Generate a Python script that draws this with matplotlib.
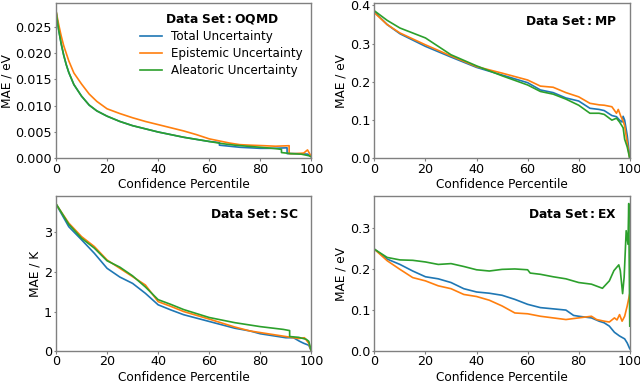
import matplotlib
matplotlib.use("Agg")
import matplotlib.pyplot as plt

labels = ["Total Uncertainty", "Epistemic Uncertainty", "Aleatoric Uncertainty"]
colors = ["#1f77b4", "#ff7f0e", "#2ca02c"]

# ---- OQMD ----
oqmd_total_x = [0, 1, 2, 3, 4, 5, 7, 10, 13, 16, 20, 25, 30, 35, 40, 45, 50, 55, 60, 64, 64, 68, 72, 76, 80, 85, 90.5, 90.5, 94, 98.6, 100]
oqmd_total_y = [0.0280, 0.0245, 0.0218, 0.0196, 0.0178, 0.0163, 0.0140, 0.0118, 0.0101, 0.0090, 0.0080, 0.0070, 0.0062, 0.0056, 0.0050, 0.0045, 0.0040, 0.0036, 0.0032, 0.0030, 0.0025, 0.0023, 0.0021, 0.0020, 0.0019, 0.0019, 0.0020, 0.0009, 0.0009, 0.0008, 0.0003]
oqmd_epi_x = [0, 1, 2, 3, 5, 7, 10, 13, 16, 20, 25, 30, 35, 40, 45, 50, 55, 60, 65, 68, 72, 76, 81.5, 86, 91.3, 91.3, 94, 97, 98.5, 99.9, 100]
oqmd_epi_y = [0.0280, 0.0255, 0.0233, 0.0214, 0.0185, 0.0162, 0.0141, 0.0122, 0.0108, 0.0094, 0.0085, 0.0077, 0.0070, 0.0064, 0.0058, 0.0052, 0.0045, 0.0037, 0.0032, 0.0029, 0.0026, 0.0025, 0.0024, 0.0023, 0.0024, 0.0009, 0.0009, 0.0010, 0.0016, 0.0004, 0.0003]
oqmd_ale_x = [0, 1, 2, 3, 4, 5, 7, 10, 13, 16, 20, 25, 30, 35, 40, 45, 50, 55, 60, 65, 70, 75, 80, 85, 88.3, 88.3, 92, 96, 99, 100]
oqmd_ale_y = [0.0280, 0.0245, 0.0218, 0.0196, 0.0178, 0.0163, 0.0140, 0.0118, 0.0101, 0.0090, 0.0080, 0.0070, 0.0062, 0.0056, 0.0050, 0.0045, 0.0040, 0.0036, 0.0032, 0.0028, 0.0025, 0.0023, 0.0021, 0.0019, 0.0017, 0.0011, 0.0009, 0.0008, 0.0005, 0.0003]

# ---- MP ----
mp_total_x = [0, 5, 10, 20, 30, 40, 50, 60, 65, 70, 75, 80, 84.4, 88, 90, 93, 94.8, 96, 97, 97.4, 98, 99, 100]
mp_total_y = [0.383, 0.350, 0.326, 0.293, 0.265, 0.238, 0.218, 0.198, 0.179, 0.172, 0.158, 0.150, 0.131, 0.128, 0.125, 0.112, 0.109, 0.100, 0.095, 0.110, 0.100, 0.060, 0.0]
mp_epi_x = [0, 5, 10, 20, 30, 40, 50, 60, 65, 70, 75, 80, 84.4, 88, 90, 93, 94.8, 95.5, 96.5, 97.4, 98, 99, 100]
mp_epi_y = [0.381, 0.350, 0.328, 0.297, 0.268, 0.240, 0.223, 0.205, 0.189, 0.186, 0.172, 0.161, 0.144, 0.140, 0.139, 0.135, 0.118, 0.128, 0.110, 0.098, 0.085, 0.040, 0.0]
mp_ale_x = [0, 5, 10, 20, 30, 40, 50, 60, 65, 70, 75, 80, 84.4, 88, 90, 93, 94.8, 96, 97.4, 98, 99, 100]
mp_ale_y = [0.386, 0.361, 0.341, 0.315, 0.271, 0.242, 0.216, 0.192, 0.175, 0.168, 0.155, 0.139, 0.118, 0.118, 0.115, 0.100, 0.105, 0.095, 0.080, 0.050, 0.030, 0.0]

# ---- SC ----
sc_total_x = [0, 5, 10, 15, 20, 25, 30, 35, 40, 45, 50, 60, 70, 76, 80, 90, 93, 95.4, 97, 99, 100]
sc_total_y = [3.71, 3.14, 2.81, 2.47, 2.09, 1.87, 1.71, 1.46, 1.17, 1.04, 0.92, 0.75, 0.58, 0.51, 0.44, 0.34, 0.34, 0.25, 0.20, 0.15, 0.0]
sc_epi_x = [0, 5, 10, 15, 20, 25, 30, 35, 40, 45, 50, 60, 70, 76, 80, 90, 95, 97.3, 99, 100]
sc_epi_y = [3.71, 3.23, 2.89, 2.64, 2.30, 2.09, 1.88, 1.67, 1.25, 1.13, 1.00, 0.81, 0.61, 0.51, 0.47, 0.37, 0.32, 0.34, 0.20, 0.0]
sc_ale_x = [0, 5, 10, 15, 20, 25, 30, 35, 40, 45, 50, 60, 70, 76, 80, 89, 91.5, 91.5, 95, 98, 99, 100]
sc_ale_y = [3.72, 3.20, 2.85, 2.60, 2.28, 2.12, 1.90, 1.62, 1.30, 1.18, 1.05, 0.85, 0.72, 0.66, 0.62, 0.55, 0.52, 0.37, 0.35, 0.30, 0.25, 0.0]

# ---- EX ----
ex_total_x = [0, 5, 10, 15, 20, 25, 30, 35, 40, 45, 50, 55, 60, 65, 70, 75, 78, 80, 85, 88, 90, 92, 94, 96, 98, 99, 100]
ex_total_y = [0.248, 0.224, 0.211, 0.195, 0.181, 0.176, 0.167, 0.152, 0.144, 0.141, 0.136, 0.126, 0.114, 0.106, 0.103, 0.100, 0.087, 0.085, 0.081, 0.073, 0.069, 0.061, 0.046, 0.037, 0.030, 0.020, 0.006]
ex_epi_x = [0, 5, 10, 15, 20, 25, 30, 35, 40, 45, 50, 55, 60, 65, 70, 75, 80, 85, 87, 90, 92, 94, 95, 96, 97, 98, 99, 100]
ex_epi_y = [0.248, 0.220, 0.199, 0.179, 0.171, 0.159, 0.152, 0.138, 0.133, 0.124, 0.110, 0.093, 0.091, 0.085, 0.081, 0.077, 0.081, 0.085, 0.077, 0.073, 0.071, 0.081, 0.076, 0.089, 0.073, 0.085, 0.110, 0.140]
ex_ale_x = [0, 5, 10, 15, 20, 25, 30, 35, 40, 45, 50, 55, 60, 61, 65, 70, 75, 80, 85, 89.3, 92, 93.8, 95.7, 96.3, 97.2, 97.8, 98.6, 99.3, 99.6, 100]
ex_ale_y = [0.248, 0.228, 0.222, 0.221, 0.217, 0.211, 0.213, 0.206, 0.198, 0.195, 0.199, 0.200, 0.198, 0.190, 0.187, 0.181, 0.176, 0.167, 0.163, 0.153, 0.171, 0.196, 0.210, 0.196, 0.140, 0.180, 0.293, 0.260, 0.359, 0.061]

panels = [
    ("OQMD", "MAE / eV", [(oqmd_total_x, oqmd_total_y), (oqmd_epi_x, oqmd_epi_y), (oqmd_ale_x, oqmd_ale_y)]),
    ("MP", "MAE / eV", [(mp_total_x, mp_total_y), (mp_epi_x, mp_epi_y), (mp_ale_x, mp_ale_y)]),
    ("SC", "MAE / K", [(sc_total_x, sc_total_y), (sc_epi_x, sc_epi_y), (sc_ale_x, sc_ale_y)]),
    ("EX", "MAE / eV", [(ex_total_x, ex_total_y), (ex_epi_x, ex_epi_y), (ex_ale_x, ex_ale_y)]),
]

fig, axes = plt.subplots(2, 2, figsize=(6.4, 3.83), dpi=100)
fig.subplots_adjust(left=0.0875, right=0.984, top=0.991, bottom=0.083, wspace=0.247, hspace=0.245)

for ax, (name, ylab, series) in zip(axes.flat, panels):
    for (xs, ys), lab, c in zip(series, labels, colors):
        ax.plot(xs, ys, color=c, lw=1.2, label=lab)
    ax.set_xlim(0, 100)
    ax.set_ylim(bottom=0)
    ax.set_xticks([0, 20, 40, 60, 80, 100])
    ax.set_xlabel("Confidence Percentile", fontsize=8.7, labelpad=2)
    ax.set_ylabel(ylab, fontsize=8.7, labelpad=1.5)
    ax.tick_params(labelsize=9.2, color="#808080", length=1.8, pad=1.2)
    for s in ax.spines.values():
        s.set_color("#808080")
        s.set_linewidth(1.0)
    title = r"$\mathbf{Data\ Set:%s}$" % name
    if name == "OQMD":
        leg = ax.legend(title=title, frameon=False, fontsize=8.6, title_fontsize=8.8,
                        loc="upper right", handlelength=1.8, borderaxespad=0.3,
                        labelspacing=0.35, handletextpad=0.8)
    else:
        ax.text(0.95, 0.925, title, transform=ax.transAxes, ha="right", va="top", fontsize=8.8)

fig.savefig("out.png", dpi=100)
